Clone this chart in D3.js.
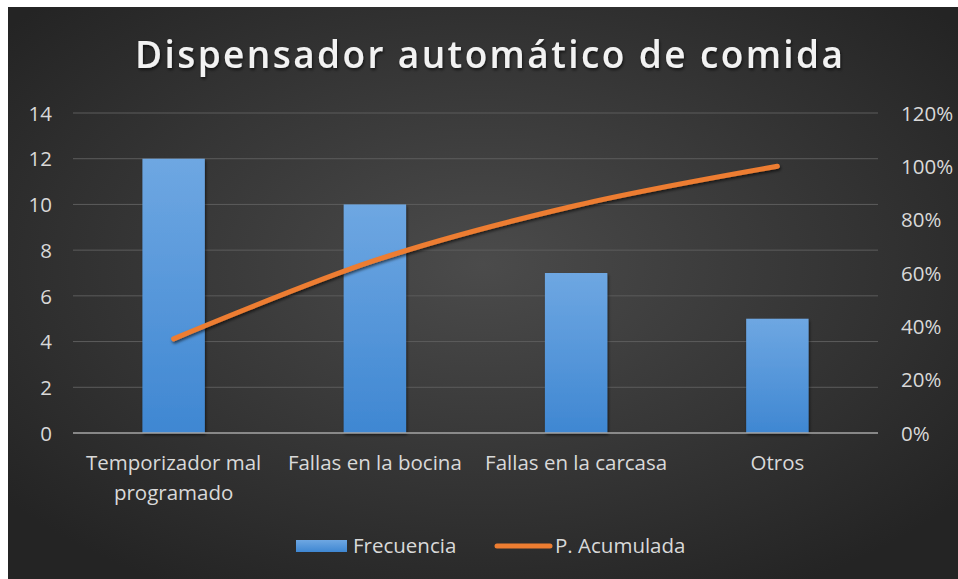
<!DOCTYPE html>
<html>
<head>
<meta charset="utf-8">
<script src="https://cdn.jsdelivr.net/npm/d3@7"></script>
<style>
	body { margin: 0; background: #ffffff; }
	svg { display: block; }
	text { font-family: "Open Sans", "Noto Sans", sans-serif; }
</style>
</head>
<body>
<svg id="chart" width="958" height="579"></svg>
<script>
// ==================================
// data
// ==================================
var categories = [["Temporizador mal", "programado"], ["Fallas en la bocina"], ["Fallas en la carcasa"], ["Otros"]];
var frecuencia = [12, 10, 7, 5];
var acumulada = [0.353, 0.647, 0.853, 1.0];
var leftTicks = [0, 2, 4, 6, 8, 10, 12, 14];
var rightTicks = [0, 0.2, 0.4, 0.6, 0.8, 1.0, 1.2];

var W = 958, H = 579;
var PLOT = { left: 73, right: 878, top: 113, bottom: 433 };
var FONT = "20.5px";

var svg = d3.select("#chart");
var defs = svg.append("defs");

// background gradient
var bg = defs.append("radialGradient").attr("id", "bgGrad")
	.attr("cx", "50%").attr("cy", "45%").attr("r", "65%");
bg.append("stop").attr("offset", "0%").attr("stop-color", "#4b4b4b");
bg.append("stop").attr("offset", "100%").attr("stop-color", "#242424");

var barGrad = defs.append("linearGradient").attr("id", "barGrad")
	.attr("x1", 0).attr("y1", 0).attr("x2", 0).attr("y2", 1);
barGrad.append("stop").attr("offset", "0%").attr("stop-color", "#6ea7e2");
barGrad.append("stop").attr("offset", "100%").attr("stop-color", "#3f87d2");

var shadow = defs.append("filter").attr("id", "shadow")
	.attr("x", "-10%").attr("y", "-10%").attr("width", "130%").attr("height", "130%");
shadow.append("feDropShadow").attr("dx", 1).attr("dy", 2).attr("stdDeviation", 1.5)
	.attr("flood-color", "#000").attr("flood-opacity", 0.6);

svg.append("rect").attr("x", 8).attr("y", 7).attr("width", W - 8).attr("height", H - 7)
	.attr("fill", "url(#bgGrad)");

// scales
var x = d3.scaleBand().domain(d3.range(categories.length))
	.range([PLOT.left, PLOT.right]).paddingInner(0.69).paddingOuter(0.345);
var yL = d3.scaleLinear().domain([0, 14]).range([PLOT.bottom, PLOT.top]);
var yR = d3.scaleLinear().domain([0, 1.2]).range([PLOT.bottom, PLOT.top]);

// gridlines
svg.append("g").selectAll("line").data(leftTicks.slice(1)).enter().append("line")
	.attr("x1", PLOT.left).attr("x2", PLOT.right)
	.attr("y1", function(d) { return yL(d); }).attr("y2", function(d) { return yL(d); })
	.attr("stroke", "#5c5c5c").attr("stroke-width", 1);

// left axis
var axL = svg.append("g").attr("transform", "translate(" + (PLOT.left - 21) + ",0)")
	.call(d3.axisLeft(yL).tickValues(leftTicks).tickSize(0).tickPadding(0));
axL.select(".domain").remove();
axL.selectAll("text").attr("fill", "#d9d9d9").attr("font-size", FONT).attr("dy", "0.35em");

// right axis
var axR = svg.append("g").attr("transform", "translate(" + (PLOT.right + 23) + ",0)")
	.call(d3.axisRight(yR).tickValues(rightTicks).tickSize(0).tickPadding(0).tickFormat(d3.format(".0%")));
axR.select(".domain").remove();
axR.selectAll("text").attr("fill", "#d9d9d9").attr("font-size", FONT).attr("dy", "0.35em");

// bars
svg.append("g").selectAll("rect").data(frecuencia).enter().append("rect")
	.attr("x", function(d, i) { return x(i); })
	.attr("y", function(d) { return yL(d); })
	.attr("width", x.bandwidth())
	.attr("height", function(d) { return yL(0) - yL(d); })
	.attr("fill", "url(#barGrad)")
	.attr("filter", "url(#shadow)");

// baseline
svg.append("line").attr("x1", PLOT.left).attr("x2", PLOT.right)
	.attr("y1", yL(0)).attr("y2", yL(0))
	.attr("stroke", "#a6a6a6").attr("stroke-width", 1.5);

// cumulative line
var line = d3.line()
	.x(function(d, i) { return x(i) + x.bandwidth() / 2; })
	.y(function(d) { return yR(d); })
	.curve(d3.curveCatmullRom.alpha(0.5));

svg.append("path").datum(acumulada)
	.attr("d", line)
	.attr("fill", "none")
	.attr("stroke", "#ed7d31")
	.attr("stroke-width", 5)
	.attr("stroke-linecap", "round")
	.attr("filter", "url(#shadow)");

// category labels
var cat = svg.append("g").selectAll("text").data(categories).enter().append("text")
	.attr("x", function(d, i) { return x(i) + x.bandwidth() / 2; })
	.attr("y", 470)
	.attr("text-anchor", "middle")
	.attr("fill", "#d9d9d9")
	.attr("font-size", FONT);
cat.each(function(d) {
	var t = d3.select(this);
	d.forEach(function(s, k) {
		t.append("tspan").attr("x", t.attr("x")).attr("dy", k === 0 ? 0 : 30).text(s);
	});
});

// title
svg.append("text")
	.attr("x", 489).attr("y", 68)
	.attr("text-anchor", "middle")
	.attr("fill", "#f2f2f2")
	.attr("font-size", "37px")
	.attr("font-weight", 600)
	.attr("textLength", 708)
	.attr("lengthAdjust", "spacing")
	.attr("filter", "url(#shadow)")
	.text("Dispensador automático de comida");

// legend
var lg = svg.append("g");
lg.append("rect").attr("x", 296).attr("y", 540).attr("width", 51).attr("height", 12)
	.attr("fill", "url(#barGrad)");
lg.append("text").attr("x", 353).attr("y", 553).attr("fill", "#d9d9d9")
	.attr("font-size", FONT).text("Frecuencia");
lg.append("line").attr("x1", 497).attr("x2", 550).attr("y1", 546).attr("y2", 546)
	.attr("stroke", "#ed7d31").attr("stroke-width", 5).attr("stroke-linecap", "round");
lg.append("text").attr("x", 555).attr("y", 553).attr("fill", "#d9d9d9")
	.attr("font-size", FONT).text("P. Acumulada");
</script>
</body>
</html>
